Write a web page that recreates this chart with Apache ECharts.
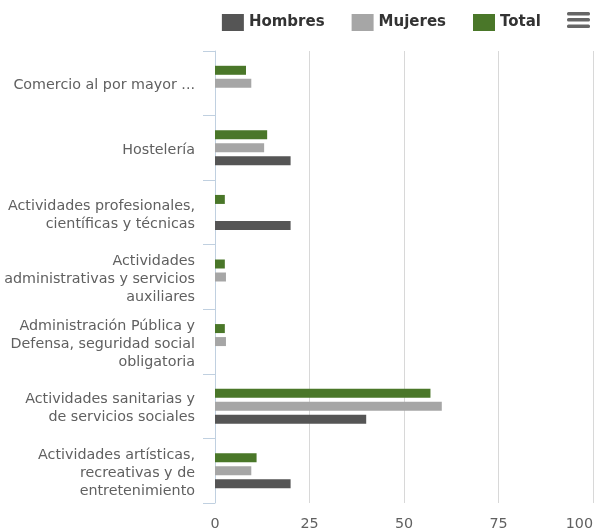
<!DOCTYPE html>
<html><head><meta charset="utf-8">
<script src="https://cdn.jsdelivr.net/npm/echarts@6/dist/echarts.min.js"></script>
<style>html,body{margin:0;padding:0;background:#fff}#c{width:595px;height:529px}</style>
</head><body><div id="c"></div>
<script>
const categories = [
  'Comercio al por mayor ...',
  'Hostelería',
  'Actividades profesionales,\ncientíficas y técnicas',
  'Actividades\nadministrativas y servicios\nauxiliares',
  'Administración Pública y\nDefensa, seguridad social\nobligatoria',
  'Actividades sanitarias y\nde servicios sociales',
  'Actividades artísticas,\nrecreativas y de\nentretenimiento'
];
const hombres = [null, 20, 20, null, null, 40, 20];
const mujeres = [9.6, 13, null, 2.9, 2.9, 60, 9.6];
const total = [8.2, 13.8, 2.6, 2.6, 2.6, 57, 11];
const xTicks = [0, 25, 50, 75, 100];

const chart = echarts.init(document.getElementById('c'), null, {renderer: 'canvas'});
const font = 'DejaVu Sans';
const barStyle = (c) => ({color: c});
chart.setOption({
  animation: false,
  textStyle: {fontFamily: font},
  legend: {
    top: 9, right: 49,
    itemWidth: 22, itemHeight: 17, itemGap: 27,
    icon: 'rect',
    textStyle: {fontFamily: font, fontSize: 15, fontWeight: 'bold', color: '#333333'},
    data: ['Hombres', 'Mujeres', 'Total']
  },
  grid: {left: 215, right: 2, top: 51, bottom: 26, containLabel: false, outerBoundsMode: 'none'},
  xAxis: {
    type: 'value', min: xTicks[0], max: xTicks[xTicks.length - 1], interval: 25,
    axisLine: {show: false}, axisTick: {show: false},
    splitLine: {show: true, lineStyle: {color: '#d8d8d8', width: 1}},
    axisLabel: {color: '#606060', fontSize: 14.3, fontFamily: font, margin: 14, alignMaxLabel: 'right'}
  },
  yAxis: {
    type: 'category', inverse: true, data: categories,
    axisLine: {show: true, lineStyle: {color: '#c0d0e0', width: 1}},
    axisTick: {show: true, length: 12, lineStyle: {color: '#c0d0e0'}},
    axisLabel: {
      color: '#606060', fontSize: 14.3, fontFamily: font, lineHeight: 18, margin: 20, align: 'right',
      formatter: (v) => '{s| }\n' + v.split('\n').map(l => '{a|' + l + '}').join('\n'),
      rich: {
        s: {fontSize: 1, lineHeight: 5, height: 5},
        a: {color: '#606060', fontSize: 14.3, fontFamily: font, lineHeight: 18}
      }
    }
  },
  series: [
    {name: 'Total', type: 'bar', data: total, barWidth: 9, barGap: '44.4%', itemStyle: barStyle('#4a7729')},
    {name: 'Mujeres', type: 'bar', data: mujeres, barWidth: 9, barGap: '44.4%', itemStyle: barStyle('#a6a6a6')},
    {name: 'Hombres', type: 'bar', data: hombres, barWidth: 9, barGap: '44.4%', itemStyle: barStyle('#555555')}
  ],
  graphic: [
    {type: 'rect', shape: {x: 567, y: 12, width: 23, height: 3.5, r: 1.5}, style: {fill: '#666666'}},
    {type: 'rect', shape: {x: 567, y: 18, width: 23, height: 3.5, r: 1.5}, style: {fill: '#666666'}},
    {type: 'rect', shape: {x: 567, y: 24.5, width: 23, height: 3.5, r: 1.5}, style: {fill: '#666666'}}
  ]
});
</script></body></html>
